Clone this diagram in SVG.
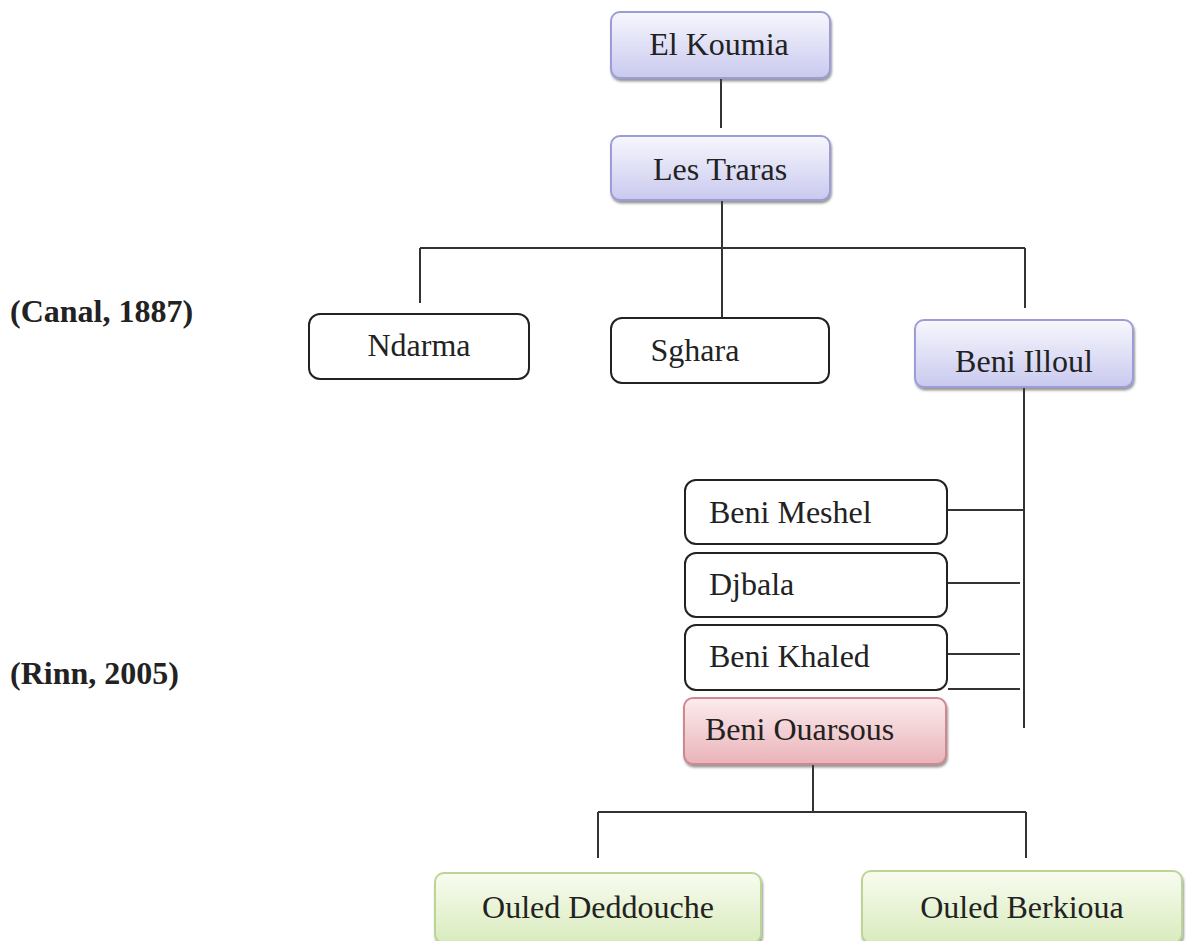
<svg xmlns="http://www.w3.org/2000/svg" width="1188" height="941" viewBox="0 0 1188 941">
<defs>
<linearGradient id="gBlue" x1="0" y1="0" x2="0" y2="1"><stop offset="0" stop-color="#f7f7fd"/><stop offset="1" stop-color="#c9c9ef"/></linearGradient>
<linearGradient id="gPink" x1="0" y1="0" x2="0" y2="1"><stop offset="0" stop-color="#fcecee"/><stop offset="1" stop-color="#e9b3b9"/></linearGradient>
<linearGradient id="gGreen" x1="0" y1="0" x2="0" y2="1"><stop offset="0" stop-color="#f8fcf0"/><stop offset="1" stop-color="#d9ebbd"/></linearGradient>
<filter id="sh" x="-10%" y="-10%" width="120%" height="130%"><feDropShadow dx="1" dy="2.5" stdDeviation="1.2" flood-color="#444" flood-opacity="0.55"/></filter>
</defs>
<style>
.t{font-family:"Liberation Serif","Times New Roman",serif;font-size:32px;fill:#222}
.c{text-anchor:middle}
.lab{font-family:"Liberation Serif","Times New Roman",serif;font-size:32px;font-weight:bold;fill:#222}
.blue{fill:url(#gBlue);stroke:#9c9cd6;stroke-width:2;filter:url(#sh)}
.pink{fill:url(#gPink);stroke:#d08890;stroke-width:2;filter:url(#sh)}
.green{fill:url(#gGreen);stroke:#bcd596;stroke-width:2;filter:url(#sh)}
.white{fill:#fff;stroke:#222;stroke-width:2}
.ln{stroke:#333;stroke-width:2;fill:none}
</style>
<rect width="1188" height="941" fill="#fff"/>
<g id="connectors">
<path class="ln" d="M721 78V128M722 200V248M420 248H1025M420 248V303M722 248V318M1025 248V308"/>
<path class="ln" d="M1024 388V728M947 510H1024M947 583H1020M947 654H1020M948 689H1020"/>
<path class="ln" d="M813 765V812M598 812H1026M598 812V858M1026 812V858"/>
</g>
<g id="label-canal"><text class="lab" x="10" y="322">(Canal, 1887)</text></g>
<g id="label-rinn"><text class="lab" x="10" y="684">(Rinn, 2005)</text></g>
<g id="n-elkoumia"><rect class="blue" x="611" y="12" width="219" height="66" rx="9"/><text class="t c" x="719" y="55">El Koumia</text></g>
<g id="n-traras"><rect class="blue" x="611" y="136" width="219" height="64" rx="9"/><text class="t c" x="720" y="180">Les Traras</text></g>
<g id="n-ndarma"><rect class="white" x="309" y="314" width="220" height="65" rx="11"/><text class="t c" x="419" y="356">Ndarma</text></g>
<g id="n-sghara"><rect class="white" x="611" y="318" width="218" height="65" rx="11"/><text class="t c" x="695" y="361">Sghara</text></g>
<g id="n-illoul"><rect class="blue" x="915" y="320" width="218" height="67" rx="9"/><text class="t c" x="1024" y="372">Beni Illoul</text></g>
<g id="n-meshel"><rect class="white" x="685" y="480" width="262" height="64" rx="11"/><text class="t" x="709" y="523">Beni Meshel</text></g>
<g id="n-djbala"><rect class="white" x="685" y="553" width="262" height="64" rx="11"/><text class="t" x="709" y="595">Djbala</text></g>
<g id="n-khaled"><rect class="white" x="685" y="625" width="262" height="65" rx="11"/><text class="t" x="709" y="667">Beni Khaled</text></g>
<g id="n-ouarsous"><rect class="pink" x="684" y="698" width="262" height="66" rx="9"/><text class="t" x="705" y="740">Beni Ouarsous</text></g>
<g id="n-deddouche"><rect class="green" x="435" y="873" width="326" height="70" rx="9"/><text class="t c" x="598" y="918">Ouled Deddouche</text></g>
<g id="n-berkioua"><rect class="green" x="862" y="871" width="320" height="72" rx="9"/><text class="t c" x="1022" y="918">Ouled Berkioua</text></g>
</svg>
